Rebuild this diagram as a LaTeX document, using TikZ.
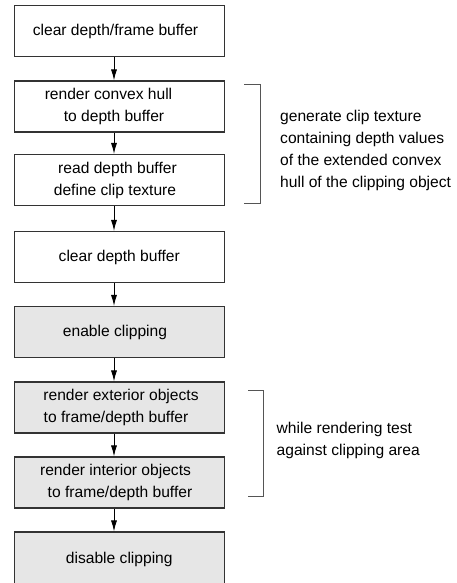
\documentclass[tikz,border=0pt]{standalone}
\usepackage{fontspec}
\setmainfont{Liberation Sans}
\usetikzlibrary{arrows.meta}
\definecolor{boxline}{HTML}{333333}
\definecolor{boxgray}{HTML}{E6E6E6}
\definecolor{brace}{HTML}{555555}
\begin{document}
\begin{tikzpicture}[x=1pt,y=-1pt,
  font=\fontsize{15.6}{22}\selectfont,
  stepbox/.style={draw=boxline, line width=1.1pt, minimum width=210pt,
    minimum height=51pt, inner sep=0pt, align=center, fill=white},
  graybox/.style={stepbox, fill=boxgray},
  flow/.style={line width=0.9pt, -{Latex[length=11pt,width=6pt]}},
  bracketline/.style={draw=brace, line width=1pt},
  note/.style={anchor=west, align=left, inner sep=0pt}]
\useasboundingbox (0,0) rectangle (457,583);

% processing steps
\node[stepbox] (b1) at (119.3,31)  {clear depth/frame buffer\hspace*{7.6pt}};
\node[stepbox] (b2) at (119.3,106.5) {render convex hull\hspace*{21.6pt}\\ to depth buffer\hspace*{10.6pt}};
\node[stepbox] (b3) at (119.3,180) {read depth buffer\hspace*{3.6pt}\\ define clip texture\hspace*{8.6pt}};
\node[stepbox] (b4) at (119.3,257) {clear depth buffer};
\node[graybox] (b5) at (119.3,332) {enable clipping\hspace*{8.6pt}};
\node[graybox] (b6) at (119.3,407.5) {\hspace*{3.4pt}render exterior objects\\ to frame/depth buffer\hspace*{6.6pt}};
\node[graybox] (b7) at (119.3,482.5) {render interior objects\hspace*{7.6pt}\\ \hspace*{1.4pt}to frame/depth buffer};
\node[graybox, minimum height=54pt] (b8) at (119.3,559) {disable clipping};

% connectors between the steps
\foreach \a/\b in {b1/b2,b2/b3,b3/b4,b4/b5,b5/b6,b6/b7,b7/b8}
  \draw[flow] ([xshift=-5.3pt]\a.south) -- ([xshift=-5.3pt]\b.north);

% bracket grouping the clip texture steps
\coordinate (k1a) at (244,85);
\coordinate (k1b) at (260,85);
\coordinate (k1c) at (260,203);
\coordinate (k1d) at (244,203);
\draw[bracketline] (k1a) -- (k1b) -- (k1c) -- (k1d);
\node[note] (n1) at (280,150.5) {generate clip texture\\ containing depth values\\ of the extended convex\\ hull of the clipping object};

% bracket grouping the clipped rendering steps
\coordinate (k2a) at (248,390);
\coordinate (k2b) at (263,390);
\coordinate (k2c) at (263,496);
\coordinate (k2d) at (248,496);
\draw[bracketline] (k2a) -- (k2b) -- (k2c) -- (k2d);
\node[note] (n2) at (276.5,440.4) {while rendering test\\ against clipping area};
\end{tikzpicture}
\end{document}
